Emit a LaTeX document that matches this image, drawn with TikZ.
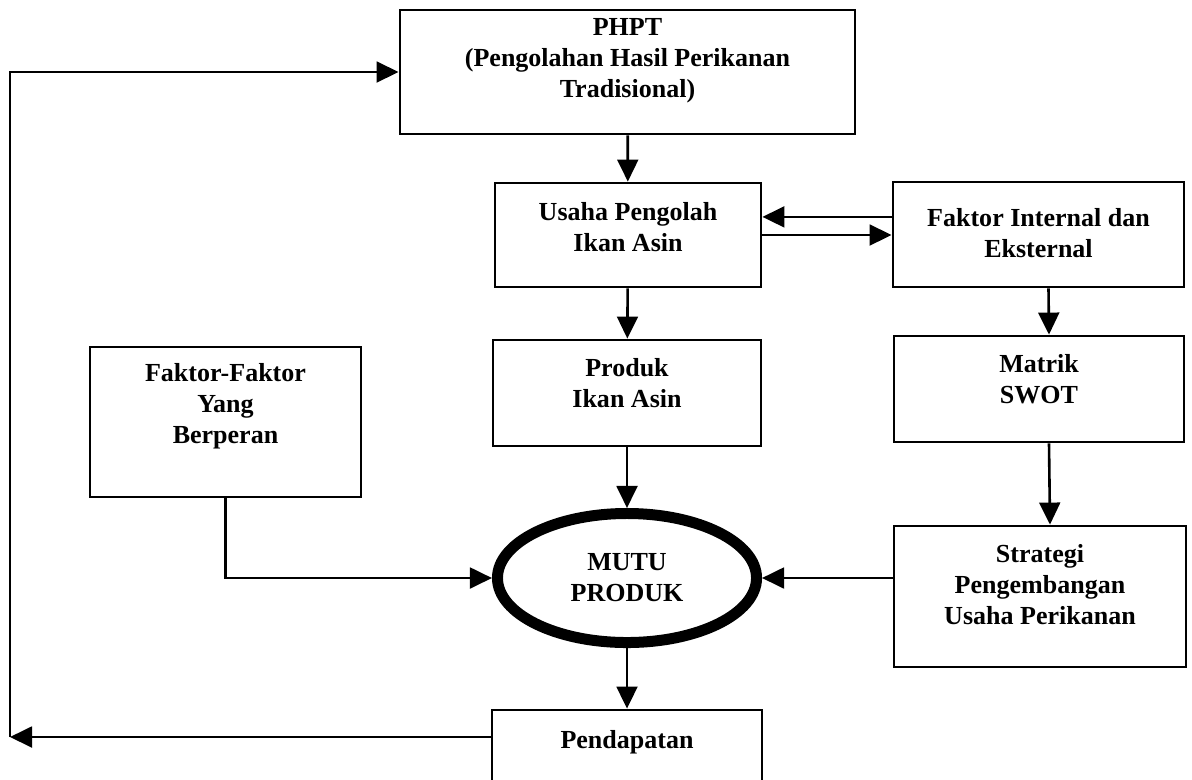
\documentclass[tikz,border=0pt]{standalone}
\usepackage{fontspec}
\setmainfont{Liberation Serif}
\usetikzlibrary{positioning,arrows.meta,shapes.geometric}

\begin{document}
\begin{tikzpicture}[x=0.025cm, y=-0.025cm,
    box/.style={rectangle, draw=black, line width=0.07cm, inner sep=0pt},
    lbl/.style={align=center, inner sep=0pt, font=\bfseries\fontsize{18.5}{22}\selectfont},
    arr/.style={-{Triangle[length=0.55cm, width=0.52cm]}, line width=0.065cm, black},
]
\useasboundingbox (0,0) rectangle (1192,779);
\clip (0,0) rectangle (1192,779);

% boxes
\node[box, minimum width=11.375cm, minimum height=3.1cm] (phpt) at (627.5,72) {};
\node[lbl, below=0.25cm of phpt.north] (phptt) {PHPT\\(Pengolahan Hasil Perikanan\\Tradisional)};

\node[box, minimum width=6.65cm, minimum height=2.6cm] (usaha) at (628,235) {};
\node[lbl, below=0.525cm of usaha.north] (usahat) {Usaha Pengolah\\Ikan Asin};

\node[box, minimum width=7.275cm, minimum height=2.625cm] (fi) at (1038.5,234.5) {};
\node[lbl, below=0.7cm of fi.north] (fit) {Faktor Internal dan\\Eksternal};

\node[box, minimum width=6.7cm, minimum height=2.65cm] (produk) at (627,393) {};
\node[lbl, below=0.5cm of produk.north] (produkt) {Produk\\Ikan Asin};

\node[box, minimum width=7.25cm, minimum height=2.65cm] (mx) at (1039,389) {};
\node[lbl, below=0.5cm of mx.north] (mxt) {Matrik\\SWOT};

\node[box, minimum width=6.775cm, minimum height=3.75cm] (ff) at (225.5,422) {};
\node[lbl, below=0.45cm of ff.north] (fft) {Faktor-Faktor\\Yang\\Berperan};

\node[box, minimum width=7.3cm, minimum height=3.525cm] (st) at (1040,596.5) {};
\node[lbl, below=0.5cm of st.north] (stt) {Strategi\\Pengembangan\\Usaha Perikanan};

\node[box, minimum width=6.75cm, minimum height=2.5cm] (pd) at (627,760) {};
\node[lbl, below=0.55cm of pd.north] (pdt) {Pendapatan};

\node[ellipse, draw=black, line width=0.275cm, minimum width=6.475cm, minimum height=3.225cm, lbl] (mutu) at (627,578) {MUTU\\PRODUK};

% arrows
\coordinate (fiu) at ([yshift=0.44cm]fi.west);
\coordinate (lb) at (10,737);

\draw[arr] (phpt) -- (usaha);
\draw[arr] (fiu) -- (fiu -| usaha.east);
\draw[arr] (usaha.east) -- (usaha.east -| fi.west);
\draw[arr] (usaha) -- (produk);
\draw[arr] (produk) -- (mutu);
\draw[arr] (mutu) -- (pd);
\draw[arr] ([xshift=0.25cm]fi.south) -- ([xshift=0.25cm]mx.north);
\draw[arr] ([xshift=0.25cm]mx.south) -- ([xshift=0.25cm]st.north);
\draw[arr] (ff.south) |- (mutu.west);
\draw[arr] (st.west |- mutu.east) -- (mutu.east);
\draw[arr] (pd.west |- lb) -- (lb);
\draw[arr] (lb) |- (phpt.west);
\end{tikzpicture}
\end{document}
